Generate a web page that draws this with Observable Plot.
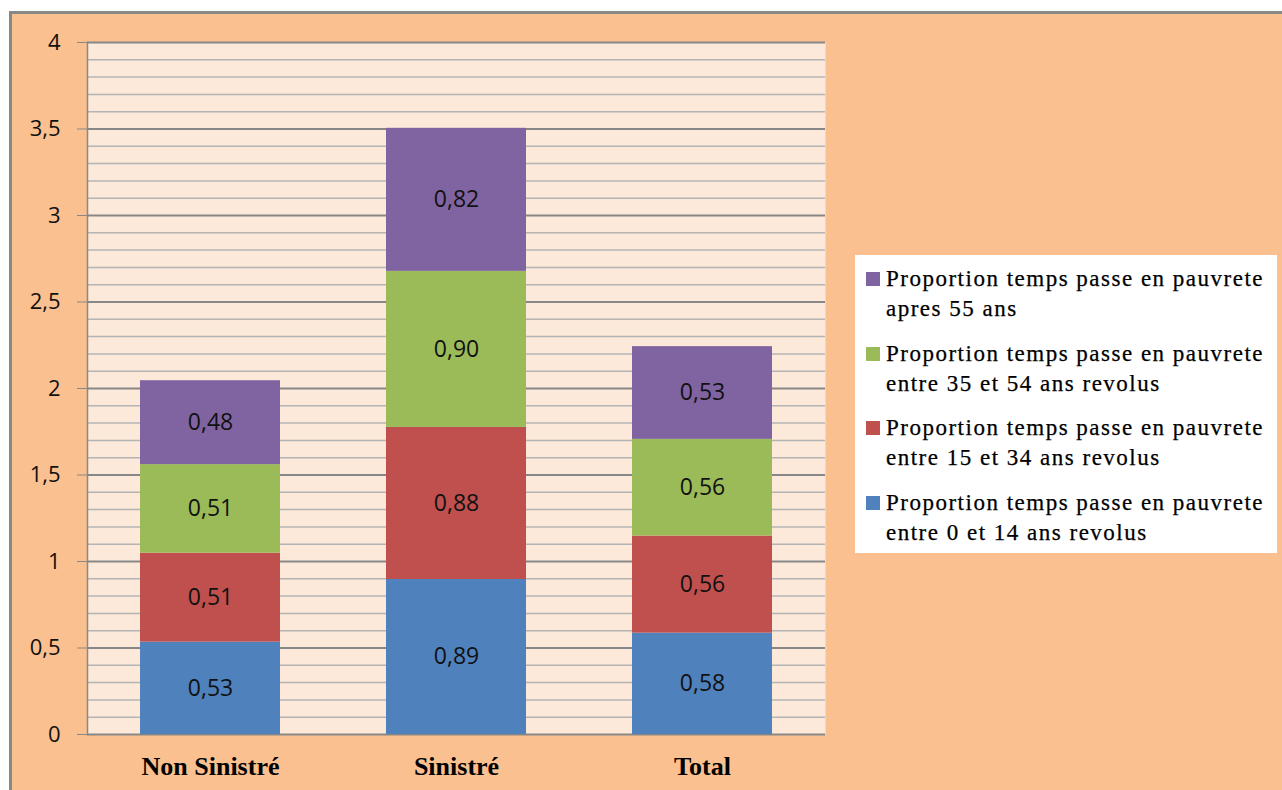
<!DOCTYPE html>
<html><head><meta charset="utf-8">
<script src="https://cdn.jsdelivr.net/npm/d3@7"></script>
<script src="https://cdn.jsdelivr.net/npm/@observablehq/plot@0.6"></script>
<style>
body{margin:0;background:#fff;width:1282px;height:790px;overflow:hidden;position:relative}
#frame{position:absolute;left:9px;top:11px;width:1273px;height:779px;background:#FAC090;border-top:3px solid #888;border-left:3px solid #888;box-sizing:border-box}
#chart{position:absolute;left:0;top:0}
#legend{position:absolute;left:855px;top:255px;width:422px;height:298px;background:#fff;font-family:"Liberation Serif",serif;font-size:23px;color:#000}
.item{position:absolute;left:11px;line-height:30px}
.sw{position:absolute;left:0;top:8px;width:14px;height:14px}
.tx{margin-left:20px;letter-spacing:1.5px;white-space:nowrap;-webkit-text-stroke:0.25px #000}
</style></head>
<body>
<div id="frame"></div>
<div id="chart"></div>
<div id="legend"></div>
<script>
const categories = ["Non Sinistré", "Sinistré", "Total"];
const seriesNames = [
  "Proportion temps passe en pauvrete entre 0 et 14 ans revolus",
  "Proportion temps passe en pauvrete entre 15 et 34 ans revolus",
  "Proportion temps passe en pauvrete entre 35 et 54 ans revolus",
  "Proportion temps passe en pauvrete apres 55 ans"
];
const legendLines = [
  ["Proportion temps passe en pauvrete", "entre 0 et 14 ans revolus"],
  ["Proportion temps passe en pauvrete", "entre 15 et 34 ans revolus"],
  ["Proportion temps passe en pauvrete", "entre 35 et 54 ans revolus"],
  ["Proportion temps passe en pauvrete", "apres 55 ans"]
];
// bar heights
const values0to14 = [0.534, 0.896, 0.586];
const values15to34 = [0.514, 0.879, 0.561];
const values35to54 = [0.512, 0.902, 0.559];
const values55plus = [0.485, 0.827, 0.536];
// printed data labels
const labels0to14 = ["0,53", "0,89", "0,58"];
const labels15to34 = ["0,51", "0,88", "0,56"];
const labels35to54 = ["0,51", "0,90", "0,56"];
const labels55plus = ["0,48", "0,82", "0,53"];
const colors = ["#4F81BD", "#C0504D", "#9BBB59", "#8064A2"];
const yTicks = [0, 0.5, 1, 1.5, 2, 2.5, 3, 3.5, 4];
const minorTicks = [0.1,0.2,0.3,0.4,0.6,0.7,0.8,0.9,1.1,1.2,1.3,1.4,1.6,1.7,1.8,1.9,2.1,2.2,2.3,2.4,2.6,2.7,2.8,2.9,3.1,3.2,3.3,3.4,3.6,3.7,3.8,3.9];

const allValues = [values0to14, values15to34, values35to54, values55plus];
const allLabels = [labels0to14, labels15to34, labels35to54, labels55plus];
const data = [];
seriesNames.forEach((s, i) => categories.forEach((c, j) => data.push({cat: c, series: s, value: allValues[i][j], label: allLabels[i][j]})));

const chart = Plot.plot({
  width: 1282, height: 790,
  marginLeft: 87, marginRight: 457, marginTop: 42, marginBottom: 56,
  style: {background: "transparent", fontFamily: "'Open Sans', sans-serif", overflow: "visible"},
  x: {domain: categories, paddingInner: 0.43, paddingOuter: 0.215, label: null},
  y: {domain: [0, 4], label: null},
  color: {domain: seriesNames, range: colors},
  marks: [
    Plot.frame({fill: "#FDE9D9", stroke: null}),
    Plot.ruleY(minorTicks, {stroke: "#B4B4B4", strokeWidth: 1.5}),
    Plot.ruleY(yTicks, {stroke: "#878787", strokeWidth: 2}),
    Plot.frame({anchor: "left", stroke: "#888", strokeWidth: 1.5}),
    Plot.barY(data, {x: "cat", y: "value", fill: "series", z: "series"}),
    Plot.text(data, Plot.stackY({x: "cat", y: "value", z: "series", text: "label", fontSize: 23, fill: "#111"})),
    Plot.axisY({ticks: yTicks, tickSize: 10, tickPadding: 17, tickFormat: d => String(d).replace(".", ","), fontSize: 22, stroke: "#888", fill: "#111"}),
    Plot.axisX({tickSize: 0, tickPadding: 22, fontSize: 26, fontWeight: "bold", fontFamily: "'Liberation Serif', serif", fill: "#000"})
  ]
});
document.getElementById("chart").appendChild(chart);

const legend = document.getElementById("legend");
const order = [3, 2, 1, 0];
const tops = [9, 83.5, 158, 232.5];
order.forEach((si, k) => {
  const item = document.createElement("div");
  item.className = "item";
  item.style.top = tops[k] + "px";
  const sw = document.createElement("div");
  sw.className = "sw";
  sw.style.background = colors[si];
  item.appendChild(sw);
  const tx = document.createElement("div");
  tx.className = "tx";
  tx.innerHTML = legendLines[si].join("<br>");
  item.appendChild(tx);
  legend.appendChild(item);
});
</script>
</body></html>
